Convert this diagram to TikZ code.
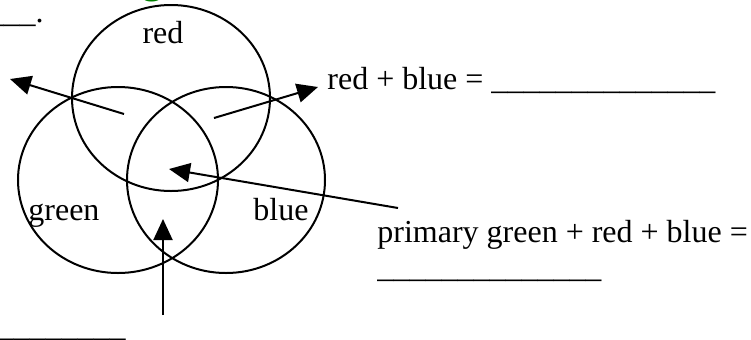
\documentclass[tikz,border=0pt]{standalone}
\usepackage{fontspec}
\setmainfont{Liberation Serif}
\usetikzlibrary{arrows.meta}
\definecolor{headgreen}{RGB}{0,128,0}

\begin{document}
\begin{tikzpicture}[
		x=0.5pt, y=-0.5pt,
		every node/.style={inner sep=0pt, font=\fontsize{16}{19}\selectfont},
		ring/.style={draw, line width=1pt},
		pointer/.style={-{Triangle[length=10.5pt, width=9.5pt]}, line width=1pt}
	]
		\useasboundingbox (0,0) rectangle (751,339);
		
		% Cut-off heading and blanks at the edges
		\node[anchor=base west, text=headgreen, font=\fontsize{22}{26}\selectfont] (head) at (141,-8) {g};
		\node[anchor=base east] (blanktop) at (44,22) {\_\_\_\_.};
		\node[anchor=base east] (blankbot) at (126,336) {\_\_\_\_\_\_\_\_};
		
		% Three circles
		\draw[ring] (171,98) ellipse [x radius=99, y radius=93];
		\draw[ring] (118,180) ellipse [x radius=100, y radius=93];
		\draw[ring] (226,180) ellipse [x radius=99, y radius=93];
		\node[anchor=base] (redlbl) at (163,43) {red};
		\node[anchor=base west] (greenlbl) at (28,220) {green};
		\node[anchor=base west] (bluelbl) at (253,220) {blue};
		
		% Questions
		\node[anchor=base west] (mixrb) at (327,89) {red + blue = \_\_\_\_\_\_\_\_\_\_\_\_\_\_};
		\node[anchor=base west] (mixall) at (377,242) {primary green + red + blue =};
		\node[anchor=base west] (mixallblank) at (377,277) {\_\_\_\_\_\_\_\_\_\_\_\_\_\_};
		
		% Arrow ends
		\coordinate (rgin) at (124,114);
		\coordinate (rgout) at (10,79);
		\coordinate (rbin) at (214,118);
		\coordinate (rbout) at (318,87);
		\coordinate (allfrom) at (398,208);
		\coordinate (allto) at (169,169);
		\coordinate (gbfrom) at (163,315);
		\coordinate (gbto) at (163,219);
		
		% Arrows
		\draw[pointer] (rgin) -- (rgout);
		\draw[pointer] (rbin) -- (rbout);
		\draw[pointer] (allfrom) -- (allto);
		\draw[pointer] (gbfrom) -- (gbto);
	\end{tikzpicture}
\end{document}
